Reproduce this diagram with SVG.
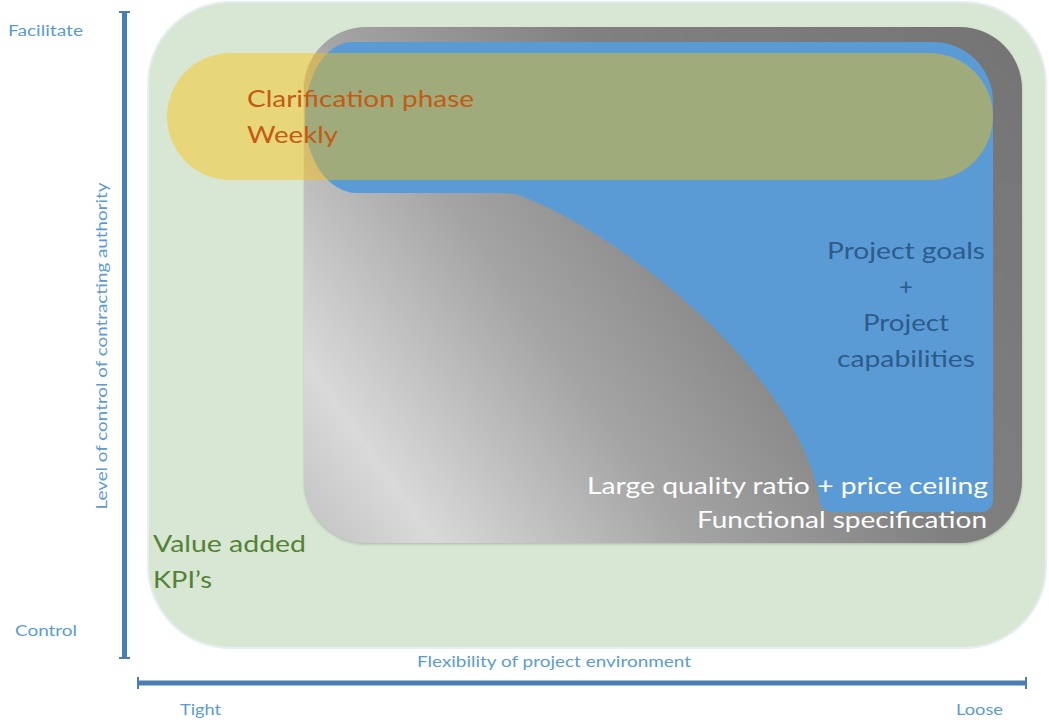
<svg xmlns="http://www.w3.org/2000/svg" width="1049" height="722" viewBox="0 0 1049 722">
  <style>
    .axl { font-family: Lato, "Open Sans", sans-serif; font-size: 14.5px; fill: #5b9bd5; }
    .big { font-family: Lato, "Open Sans", sans-serif; font-size: 24px; }
    .orange { fill: #c55a11; }
    .navy { fill: #2c5b8c; }
    .white { fill: #ffffff; }
    .green { fill: #548235; }
    .axis { stroke: #4a7db5; stroke-width: 5; fill: none; }
    .cap { stroke: #4a7db5; stroke-width: 2; fill: none; }
  </style>
  <defs>
    <linearGradient id="grayGrad" gradientUnits="userSpaceOnUse" x1="304" y1="543" x2="1022" y2="27">
      <stop offset="0" stop-color="#c2c2c2"/>
      <stop offset="0.12" stop-color="#d9d9d9"/>
      <stop offset="0.36" stop-color="#a4a4a4"/>
      <stop offset="0.6" stop-color="#808080"/>
      <stop offset="1" stop-color="#747474"/>
    </linearGradient>
    <filter id="shadow" x="-5%" y="-5%" width="110%" height="115%">
      <feDropShadow dx="0" dy="1.5" stdDeviation="1.2" flood-color="#8a9a8a" flood-opacity="0.5"/>
    </filter>
  </defs>
  <rect width="1049" height="722" fill="#ffffff"/>

  <g id="value-added">
    <rect x="148" y="2" width="898" height="646" rx="82" ry="82" fill="#d8e7d3" stroke="#e6eef2" stroke-width="2"/>
    <text class="big green" x="153" y="552" textLength="153" lengthAdjust="spacingAndGlyphs">Value added</text>
    <text class="big green" x="153" y="588" textLength="59" lengthAdjust="spacingAndGlyphs">KPI’s</text>
  </g>

  <g id="functional-spec">
    <rect x="304" y="27" width="718" height="516" rx="62" ry="62" fill="url(#grayGrad)" filter="url(#shadow)"/>
  </g>

  <g id="project-goals">
    <path d="M 352,42 H 933 A 60 60 0 0 1 993,102 V 500 A 12 12 0 0 1 981,512 H 834 Q 823,512 821,505 C 800,370 610,225 515,194 Q 510,193 500,193 H 357 A 52 75.5 0 0 1 305,117.5 A 47 75.5 0 0 1 352,42 Z" fill="#5b9bd5"/>
    <text class="big navy" x="906" y="259" text-anchor="middle" textLength="158" lengthAdjust="spacingAndGlyphs">Project goals</text>
    <text class="big navy" x="906" y="295" text-anchor="middle">+</text>
    <text class="big navy" x="906" y="331" text-anchor="middle" textLength="86" lengthAdjust="spacingAndGlyphs">Project</text>
    <text class="big navy" x="906" y="367" text-anchor="middle" textLength="138" lengthAdjust="spacingAndGlyphs">capabilities</text>
  </g>

  <g id="spec-labels">
    <text class="big white" x="988" y="494" text-anchor="end" textLength="401" lengthAdjust="spacingAndGlyphs">Large quality ratio + price ceiling</text>
    <text class="big white" x="987" y="528" text-anchor="end" textLength="290" lengthAdjust="spacingAndGlyphs">Functional specification</text>
  </g>

  <g id="clarification">
    <rect x="167" y="53" width="826" height="127" rx="63.5" ry="63.5" fill="#ffc000" fill-opacity="0.42"/>
    <text class="big orange" x="247" y="107" textLength="227" lengthAdjust="spacingAndGlyphs">Clarification phase</text>
    <text class="big orange" x="247" y="143" textLength="91" lengthAdjust="spacingAndGlyphs">Weekly</text>
  </g>

  <g id="connectors">
    <line class="axis" x1="124.5" y1="12" x2="124.5" y2="658"/>
    <line class="cap" x1="119" y1="12" x2="130" y2="12"/>
    <line class="cap" x1="119" y1="658" x2="130" y2="658"/>
    <line class="axis" x1="138" y1="683" x2="1026" y2="683" stroke-width="6"/>
    <line class="cap" x1="138" y1="677" x2="138" y2="689"/>
    <line class="cap" x1="1026" y1="677" x2="1026" y2="689"/>
  </g>

  <g id="axis-labels">
    <text class="axl" x="8" y="36" textLength="75" lengthAdjust="spacingAndGlyphs">Facilitate</text>
    <text class="axl" x="15" y="636" textLength="62" lengthAdjust="spacingAndGlyphs">Control</text>
    <text class="axl" transform="translate(107,346) rotate(-90)" x="0" y="0" text-anchor="middle" textLength="327" lengthAdjust="spacingAndGlyphs">Level of control of contracting authority</text>
    <text class="axl" x="554" y="667" text-anchor="middle" textLength="274" lengthAdjust="spacingAndGlyphs">Flexibility of project environment</text>
    <text class="axl" x="180" y="715" textLength="41" lengthAdjust="spacingAndGlyphs">Tight</text>
    <text class="axl" x="956" y="715" textLength="47" lengthAdjust="spacingAndGlyphs">Loose</text>
  </g>
</svg>
